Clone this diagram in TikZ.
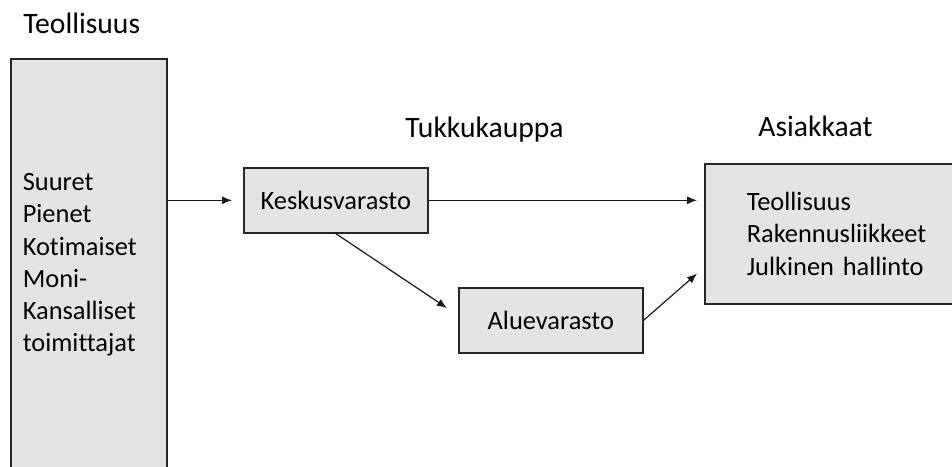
\documentclass[tikz,border=0pt]{standalone}
\usepackage{fontspec}
\setmainfont{Carlito}[Ligatures=NoCommon]
\usetikzlibrary{arrows.meta}
\definecolor{boxgray}{RGB}{228,228,228}

\begin{document}
\begin{tikzpicture}[x=0.5pt,y=-0.5pt,>={Latex[length=5pt,width=4pt]}]
        \tikzstyle{every node} = [rectangle, font=\fontsize{13.2}{16.1}\selectfont]
        \tikzstyle{box} = [draw=black!85, line width=0.8pt, fill=boxgray, anchor=north west]
        \tikzstyle{head} = [anchor=base west, inner sep=0pt, font=\fontsize{14.8}{17}\selectfont]
        \tikzstyle{conn} = [->, line width=0.6pt, black!90]
        \useasboundingbox (0,0) rectangle (952,466);
        \clip (0,0) rectangle (952,466);

        \node[head] (h1) at (23,33) {Teollisuus};
        \node[head] (h2) at (405,137) {Tukkukauppa};
        \node[head] (h3) at (758,136) {Asiakkaat};

        \node[box, minimum width=78pt, minimum height=206pt, inner xsep=6pt, text width=66pt, align=left] (toim) at (10,58) {Suuret\\Pienet\\Kotimaiset\\Moni-\\Kansalliset\\toimittajat};
        \node[box, minimum width=92pt, minimum height=32.5pt] (kesk) at (243,167) {Keskusvarasto};
        \node[box, minimum width=92pt, minimum height=32.5pt] (alue) at (458,287) {Aluevarasto};
        \node[box, minimum width=142pt, minimum height=70pt, inner xsep=21pt, text width=100pt, align=left] (asiak) at (704,163) {Teollisuus\\Rakennusliikkeet\\Julkinen hallinto};

        \draw[conn, shorten >=5.5pt] (toim.east |- kesk.west) -- (kesk.west);
        \draw[conn, shorten >=3.5pt] (kesk.east) -- (kesk.east -| asiak.west);
        \draw[conn] (kesk.south) -- ([xshift=-5.5pt,yshift=-10.5pt]alue.north west);
        \draw[conn] (alue.east) -- ([xshift=-3.5pt,yshift=15.5pt]asiak.south west);
\end{tikzpicture}
\end{document}
